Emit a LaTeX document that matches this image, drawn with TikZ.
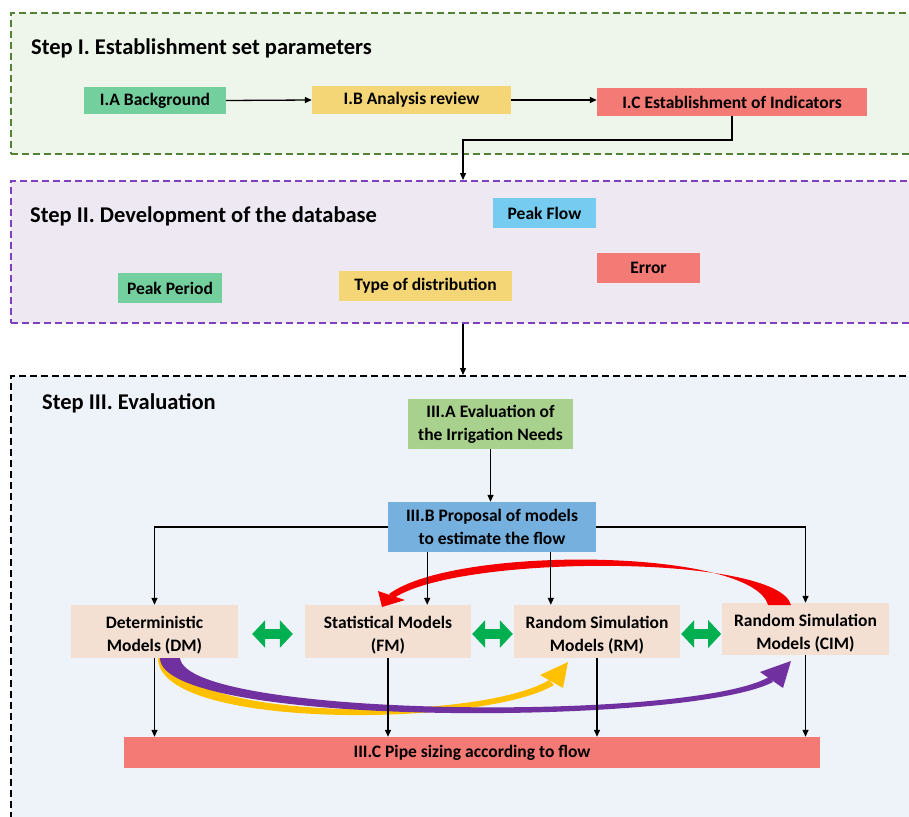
\documentclass[tikz,border=0pt]{standalone}
\usepackage{fontspec}
\setmainfont{Carlito}
\usetikzlibrary{arrows.meta,calc}
\definecolor{sAfill}{HTML}{EEF5EA}
\definecolor{sAdraw}{HTML}{548235}
\definecolor{sBfill}{HTML}{EEE8F3}
\definecolor{sBdraw}{HTML}{7F3FBF}
\definecolor{sCfill}{HTML}{EEF3FA}
\definecolor{cgreen}{HTML}{74CF9E}
\definecolor{cyellow}{HTML}{F5D676}
\definecolor{cred}{HTML}{F47A76}
\definecolor{cblue}{HTML}{75CBF0}
\definecolor{clime}{HTML}{A9D18E}
\definecolor{csteel}{HTML}{75B0DE}
\definecolor{cpeach}{HTML}{F3E0D2}
\definecolor{agreen}{HTML}{00B050}
\definecolor{apurple}{HTML}{7030A0}
\definecolor{ayellow}{HTML}{FFC000}
\definecolor{ared}{HTML}{F50000}
\newcommand{\mstrut}{\rule{0pt}{20pt}}
\tikzset{
  frame/.style={rectangle, anchor=north west, line width=1.6pt, dash pattern=on 7pt off 4pt, minimum width=905pt, inner sep=0pt},
  ttl/.style={anchor=west, font=\fontsize{22.5}{26}\selectfont\bfseries, inner sep=0pt},
  box/.style={rectangle, inner sep=0pt, align=center, font=\fontsize{17.5}{23}\selectfont\bfseries},
  conn/.style={draw=black, line width=1.3pt, -{Triangle[length=7pt,width=6pt]}},
  dbl/.style={draw=agreen, line width=10pt, {Triangle[width=27pt,length=13pt]}-{Triangle[width=27pt,length=13pt]}}
}
\begin{document}
\begin{tikzpicture}[x=1pt,y=-1pt]
\path[use as bounding box] (0,0) rectangle (909,816);
\clip (0,0) rectangle (909,816);
% frames
\node[frame, draw=sAdraw, fill=sAfill, minimum height=141pt] (s1) at (10,12) {};
\node[frame, draw=sBdraw, fill=sBfill, minimum height=142pt] (s2) at (10,180) {};
\node[frame, draw=black, fill=sCfill, minimum height=460pt] (s3) at (10,375) {};
% titles
\node[ttl] (t1) at (31,48) {Step I. Establishment set parameters};
\node[ttl] (t2) at (30,216) {Step II. Development of the database};
\node[ttl] (t3) at (42,403) {Step III. Evaluation};
% step I
\node[box, fill=cgreen, minimum width=142pt, minimum height=27pt] (ia) at (155,100.5) {I.A Background};
\node[box, fill=cyellow, minimum width=199pt, minimum height=28pt] (ib) at (411.5,100) {I.B Analysis review};
\node[box, fill=cred, minimum width=270pt, minimum height=28pt] (ic) at (732,102) {I.C Establishment of Indicators};
% step II
\node[box, fill=cblue, minimum width=103pt, minimum height=30pt] (pf) at (544.5,213) {Peak Flow};
\node[box, fill=cred, minimum width=103pt, minimum height=30pt] (err) at (648.5,268) {Error};
\node[box, fill=cgreen, minimum width=104pt, minimum height=30pt] (pp) at (170,288) {Peak Period};
\node[box, fill=cyellow, minimum width=173pt, minimum height=30pt] (tod) at (425.5,286) {Type of distribution};
% step III
\node[box, fill=clime, minimum width=165pt, minimum height=50pt] (iiia) at (490.5,424) {III.A Evaluation of\\the Irrigation Needs};
\node[box, fill=csteel, minimum width=208pt, minimum height=50pt] (iiib) at (492,527) {III.B Proposal of models\\to estimate the flow};
\node[box, fill=cpeach, minimum width=167pt, minimum height=53pt] (dm) at (154.5,631.5) {\mstrut Deterministic\\Models (DM)};
\node[box, fill=cpeach, minimum width=166pt, minimum height=53pt] (fm) at (388,631.5) {\mstrut Statistical Models\\(FM)};
\node[box, fill=cpeach, minimum width=166pt, minimum height=53pt] (rm) at (597,631.5) {\mstrut Random Simulation\\Models (RM)};
\node[box, fill=cpeach, minimum width=167pt, minimum height=52pt] (cim) at (805.5,629) {\mstrut Random Simulation\\Models (CIM)};
\node[box, fill=cred, minimum width=696pt, minimum height=31pt] (iiic) at (472,752.5) {III.C Pipe sizing according to flow};
% curved block arrows (tapered)
% yellow: DM -> RM
\fill[ayellow] (175,658) .. controls (180,722) and (480,722) .. (549,680)
  -- (554,685) .. controls (485,727) and (158,731) .. (158,658) -- cycle;
\fill[ayellow] (568,662) -- (540,675) -- (563,688) -- cycle;
% purple: DM -> CIM
\fill[apurple] (180,658) .. controls (186,718) and (690,722) .. (769,677)
  -- (773,682) .. controls (690,726) and (160,728) .. (160,658) -- cycle;
\fill[apurple] (791,661) -- (760,672) -- (783,688) -- cycle;
% red: CIM -> FM
\fill[ared] (768,605) .. controls (752,548) and (455,545) .. (389,594)
  -- (394,598) .. controls (460,554) and (778,554) .. (791,605) -- cycle;
\fill[ared] (382,607) -- (378,591) -- (405,600) -- cycle;
% connectors step I
\draw[conn] (ia.east) -- (ib.west);
\draw[conn] (ib.east) -- (ib.east -| ic.west);
\coordinate (k) at (463,140);
\draw[conn] (ic.south) |- (k) -- (k |- s2.north);
\draw[conn] (k |- s2.south) -- (k |- s3.north);
% step III connectors
\draw[conn] (iiia.south) -- (iiia.south |- iiib.north);
\draw[conn] (iiib.west) -| (dm.north);
\draw[conn] (iiib.east) -| (cim.north);
\coordinate (fmin) at ($(fm.north east)+(-44,0)$);
\coordinate (rmin) at ($(rm.north west)+(37,0)$);
\draw[conn] (fmin |- iiib.south) -- (fmin);
\draw[conn] (rmin |- iiib.south) -- (rmin);
\draw[conn] (dm.south) -- (dm.south |- iiic.north);
\draw[conn] (fm.south) -- (fm.south |- iiic.north);
\draw[conn] (rm.south) -- (rm.south |- iiic.north);
\draw[conn] (cim.south) -- (cim.south |- iiic.north);
% green double arrows
\draw[dbl] ($(dm.east)+(14,2.5)$) -- ($(fm.west)+(-12,2.5)$);
\draw[dbl] ($(fm.east)+(1,2.5)$) -- ($(rm.west)+(-1,2.5)$);
\draw[dbl] ($(rm.east)+(1,2.5)$) -- ($(rm.east)+(41,2.5)$);
\end{tikzpicture}
\end{document}
